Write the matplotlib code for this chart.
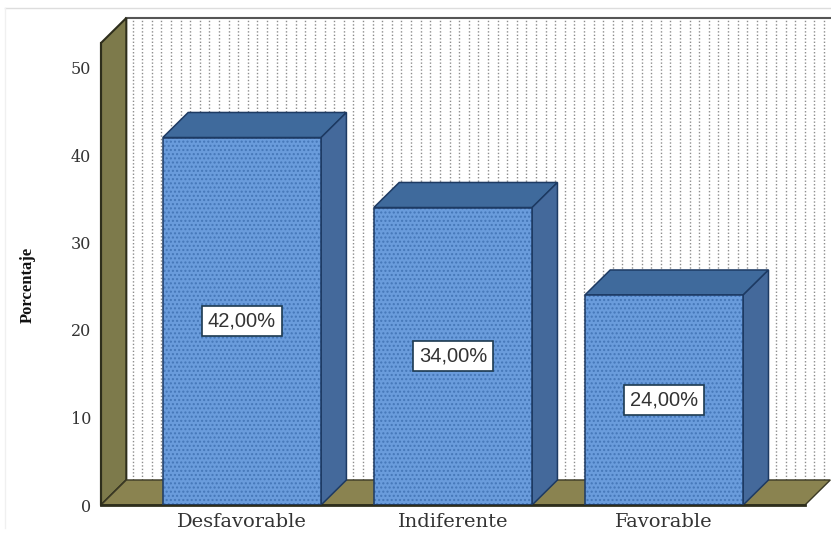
import numpy as np
import matplotlib
matplotlib.use("Agg")
import matplotlib.pyplot as plt
from matplotlib.lines import Line2D

# --- datos ---
categories = ["Desfavorable", "Indiferente", "Favorable"]
values = [42, 34, 24]
value_labels = ["42,00%", "34,00%", "24,00%"]
y_ticks = [0, 10, 20, 30, 40, 50]

W, H = 831, 542
plt.rcParams["hatch.linewidth"] = 1.0

fig = plt.figure(figsize=(W / 100, H / 100), dpi=100, facecolor="white")
# plano frontal: x 101-805 px, y 505-43 px
ax = fig.add_axes([101 / W, 1 - 505 / H, 704 / W, 462 / H])
ax.set_xlim(-0.668, 2.668)
ax.set_ylim(0, 52.8)
ax.patch.set_visible(False)

xmin, xmax = ax.get_xlim()
ymax = ax.get_ylim()[1]
dx, dy = 0.12, 2.86  # profundidad 3D

# pared de fondo con lineas punteadas
ax.fill([xmin + dx, xmax + dx, xmax + dx, xmin + dx], [dy, dy, ymax + dy, ymax + dy],
        color="white", clip_on=False, zorder=1)
ax.vlines(np.arange(xmin + dx + 0.03, xmax + dx, 9.6 / 211), dy, ymax + dy,
          colors="#8c8c8c", linestyles=(0, (1, 1.5)), linewidth=1.0, clip_on=False, zorder=1.5)
ax.plot([xmin + dx, xmax + dx], [ymax + dy, ymax + dy], color="#555555", lw=1.5, clip_on=False, zorder=2)

# pared lateral y piso
ax.fill([xmin, xmin + dx, xmin + dx, xmin], [0, dy, ymax + dy, ymax],
        facecolor="#7d7a4b", edgecolor="#2e2e1c", lw=1.5, clip_on=False, zorder=2)
ax.fill([xmin, xmax, xmax + dx, xmin + dx], [0, 0, dy, dy],
        facecolor="#8a8350", edgecolor="#3a3824", lw=1.0, clip_on=False, zorder=2)

# barras
bars = ax.bar(categories, values, width=0.75, color="#6a9cdc", edgecolor="#4577b8",
              hatch="....", linewidth=0, zorder=4)
for bar, v, txt in zip(bars, values, value_labels):
    x0 = bar.get_x()
    x1 = x0 + bar.get_width()
    ax.plot([x0, x1, x1, x0, x0], [0, 0, v, v, 0], color="#1d3a63", lw=1.1, zorder=5)
    ax.fill([x0, x1, x1 + dx, x0 + dx], [v, v, v + dy, v + dy],
            facecolor="#3f6a9c", edgecolor="#1d3a63", lw=1.1, zorder=3)
    ax.fill([x1, x1 + dx, x1 + dx, x1], [0, dy, v + dy, v],
            facecolor="#44699b", edgecolor="#1d3a63", lw=1.1, zorder=3)
    ax.text((x0 + x1) / 2, v / 2, txt, ha="center", va="center", fontsize=14.5,
            family="Liberation Sans", color="#333333", zorder=6,
            bbox=dict(boxstyle="square,pad=0.28", facecolor="white", edgecolor="#1d3a50", linewidth=1.2))

# ejes
for side in ["top", "right"]:
    ax.spines[side].set_visible(False)
ax.spines["left"].set_color("#2e2e1c")
ax.spines["bottom"].set_color("#2e2e1c")
ax.spines["bottom"].set_linewidth(2)
ax.spines["left"].set_linewidth(1.5)
for s in ax.spines.values():
    s.set_zorder(4.5)
ax.set_yticks(y_ticks)
ax.tick_params(axis="both", length=0)
ax.tick_params(axis="y", pad=7, labelsize=11.5, labelcolor="#333333")
ax.tick_params(axis="x", pad=6, labelsize=14, labelcolor="#333333")
for lab in ax.get_xticklabels() + ax.get_yticklabels():
    lab.set_family("DejaVu Serif")

fig.text(28 / W, 1 - 285 / H, "Porcentaje", rotation=90, ha="center", va="center",
         family="Liberation Serif", fontweight="bold", fontsize=12, color="#111111")

# marco claro de la imagen
fig.add_artist(Line2D([5 / W, 1], [1 - 8 / H, 1 - 8 / H], color="#dddddd", lw=1))
fig.add_artist(Line2D([5 / W, 5 / W], [1 - 8 / H, 1 - 528 / H], color="#f0f0f0", lw=1))

fig.savefig("out.png", dpi=100)
